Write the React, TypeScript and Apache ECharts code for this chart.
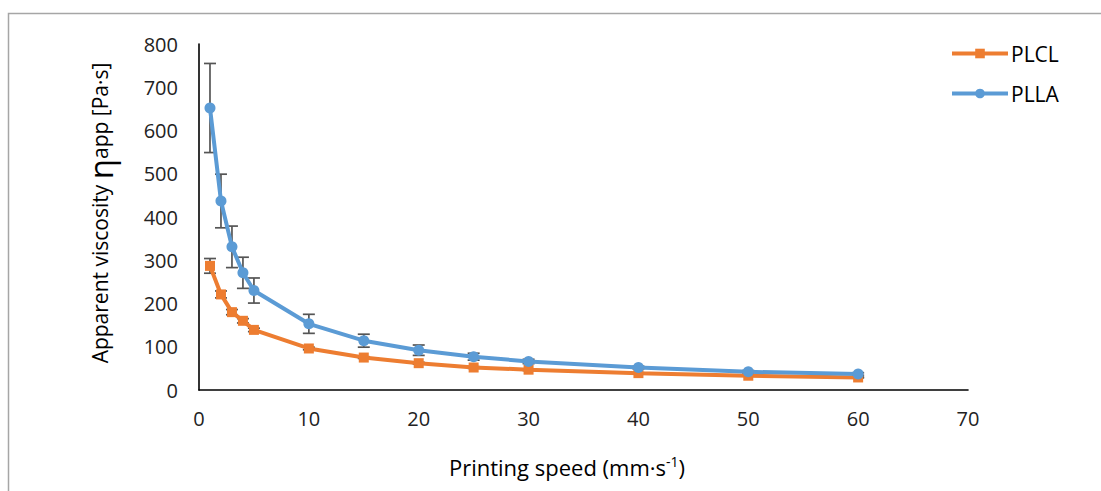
import React, { useEffect, useRef } from "react";
import * as echarts from "echarts";

const speeds = [1, 2, 3, 4, 5, 10, 15, 20, 25, 30, 40, 50, 60];
const plclValues = [287, 221, 180, 160, 139, 96, 75, 62, 52, 47, 39, 33, 29];
const plclErrors = [17, 8, 6, 5, 4, 3, 2, 2, 2, 2, 1, 1, 1];
const pllaValues = [652, 437, 331, 271, 230, 153, 114, 92, 77, 66, 52, 42, 37];
const pllaErrors = [103, 62, 48, 36, 29, 22, 15, 12, 8, 5, 3, 3, 3];

const FONT = "'Open Sans', 'Noto Sans', sans-serif";

function errorSeries(values: number[], errors: number[]) {
  return {
    type: "custom",
    silent: true,
    z: 1,
    data: speeds.map((s, i) => [s, values[i] - errors[i], values[i] + errors[i]]),
    renderItem: (params: any, api: any) => {
      const x = api.value(0);
      const lo = api.coord([x, api.value(1)]);
      const hi = api.coord([x, api.value(2)]);
      const cap = 6;
      const style = { stroke: "#555555", lineWidth: 1.7 };
      return {
        type: "group",
        children: [
          { type: "line", shape: { x1: lo[0], y1: lo[1], x2: hi[0], y2: hi[1] }, style },
          { type: "line", shape: { x1: lo[0] - cap, y1: lo[1], x2: lo[0] + cap, y2: lo[1] }, style },
          { type: "line", shape: { x1: hi[0] - cap, y1: hi[1], x2: hi[0] + cap, y2: hi[1] }, style },
        ],
      };
    },
  };
}

export default function App() {
  const ref = useRef<HTMLDivElement>(null);
  useEffect(() => {
    if (!ref.current) return;
    const chart = echarts.init(ref.current, undefined, { renderer: "svg" });
    chart.setOption({
      animation: false,
      backgroundColor: "#ffffff",
      grid: { left: 199, right: 133, top: 44, bottom: 101 },
      legend: {
        left: 945,
        top: 34,
        orient: "vertical",
        itemWidth: 56,
        itemHeight: 12,
        itemGap: 11,
        lineStyle: { width: 4 },
        textStyle: { fontFamily: FONT, fontSize: 21, color: "#000", padding: [0, 0, 0, -2], lineHeight: 29 },
        data: ["PLCL", "PLLA"],
      },
      xAxis: {
        type: "value",
        min: 0,
        max: 70,
        interval: 10,
        axisLine: { lineStyle: { color: "#000", width: 1.6 } },
        axisTick: { show: false },
        splitLine: { show: false },
        axisLabel: { fontFamily: FONT, fontSize: 20, color: "#222", margin: 18 },
      },
      yAxis: {
        type: "value",
        min: 0,
        max: 800,
        interval: 100,
        axisLine: { show: true, lineStyle: { color: "#000", width: 1.6 } },
        axisTick: { show: false },
        splitLine: { show: false },
        axisLabel: { fontFamily: FONT, fontSize: 20, color: "#222", margin: 21 },
      },
      graphic: [
        {
          type: "rect",
          shape: { x: 8.5, y: 13.5, width: 1200, height: 600 },
          style: { fill: "none", stroke: "#a6a6a6", lineWidth: 1.5 },
          silent: true,
        },
        {
          type: "text",
          x: 567,
          y: 467,
          style: {
            text: "{a|Printing speed (mm·s}{s|-1}{a|)}",
            align: "center",
            verticalAlign: "middle",
            rich: {
              a: { fontFamily: FONT, fontSize: 22, fill: "#000" },
              s: { fontFamily: FONT, fontSize: 14, fill: "#000", padding: [0, 0, 12, 0] },
            },
          },
        },
        {
          type: "text",
          x: 100,
          y: 213,
          rotation: Math.PI / 2,
          style: {
            text: "{a|Apparent viscosity }{e|η}{a|app [Pa·s]}",
            align: "center",
            verticalAlign: "middle",
            rich: {
              a: { fontFamily: FONT, fontSize: 21, fill: "#000" },
              e: { fontFamily: FONT, fontSize: 33, fill: "#000" },
            },
          },
        },
      ],
      series: [
        errorSeries(plclValues, plclErrors),
        errorSeries(pllaValues, pllaErrors),
        {
          name: "PLCL",
          type: "line",
          z: 3,
          data: speeds.map((s, i) => [s, plclValues[i]]),
          symbol: "rect",
          symbolSize: 10,
          itemStyle: { color: "#ED7D31" },
          lineStyle: { color: "#ED7D31", width: 4 },
        },
        {
          name: "PLLA",
          type: "line",
          z: 3,
          data: speeds.map((s, i) => [s, pllaValues[i]]),
          symbol: "circle",
          symbolSize: 11,
          itemStyle: { color: "#5B9BD5" },
          lineStyle: { color: "#5B9BD5", width: 4 },
        },
      ],
    });
    return () => chart.dispose();
  }, []);
  return (
    <div
      ref={ref}
      style={{ position: "fixed", left: 0, top: 0, width: 1101, height: 491 }}
    />
  );
}
